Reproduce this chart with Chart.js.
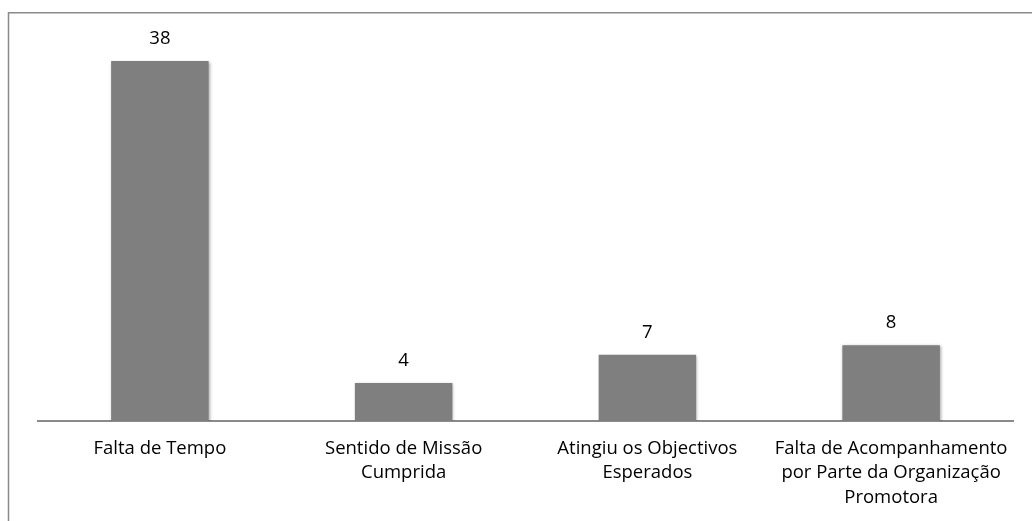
<!DOCTYPE html>
<html>
<head>
<meta charset="utf-8">
<script src="https://cdn.jsdelivr.net/npm/chart.js@4"></script>
<style>
  html, body { margin: 0; padding: 0; background: #fff; }
  #wrap { width: 1032px; height: 521px; position: relative; }
</style>
</head>
<body>
<div id="wrap"><canvas id="chart"></canvas></div>
<script>
// chart data
const categories = [
  'Falta de Tempo',
  ['Sentido de Missão', 'Cumprida'],
  ['Atingiu os Objectivos', 'Esperados'],
  ['Falta de Acompanhamento', 'por Parte da Organização', 'Promotora']
];
const values = [38, 4, 7, 8];

const FONT = '"Open Sans", sans-serif';
const FONT_SIZE = 18.5;

// outer frame (only left and top edges show in the picture)
const framePlugin = {
  id: 'frame',
  beforeDraw(chart) {
    const ctx = chart.ctx;
    ctx.save();
    ctx.strokeStyle = '#8a8a8a';
    ctx.lineWidth = 1.5;
    ctx.beginPath();
    ctx.moveTo(8.5, chart.height);
    ctx.lineTo(8.5, 12.75);
    ctx.lineTo(chart.width, 12.75);
    ctx.stroke();
    ctx.restore();
  }
};

// soft shadow under bars
const shadowPlugin = {
  id: 'barShadow',
  beforeDatasetsDraw(chart) {
    const ctx = chart.ctx;
    ctx.save();
    ctx.shadowColor = 'rgba(0,0,0,0.35)';
    ctx.shadowBlur = 3;
    ctx.shadowOffsetX = 1;
    ctx.shadowOffsetY = 1;
  },
  afterDatasetsDraw(chart) {
    chart.ctx.restore();
  }
};

// value labels above bars
const valueLabels = {
  id: 'valueLabels',
  afterDatasetsDraw(chart) {
    const ctx = chart.ctx;
    const meta = chart.getDatasetMeta(0);
    ctx.save();
    ctx.font = FONT_SIZE + 'px ' + FONT;
    ctx.fillStyle = '#000';
    ctx.textAlign = 'center';
    ctx.textBaseline = 'middle';
    meta.data.forEach((bar, i) => {
      ctx.fillText(String(values[i]), bar.x, bar.y - 22);
    });
    ctx.restore();
  }
};

new Chart(document.getElementById('chart'), {
  type: 'bar',
  data: {
    labels: categories,
    datasets: [{
      data: values,
      backgroundColor: '#7f7f7f',
      barPercentage: 0.4,
      categoryPercentage: 1.0
    }]
  },
  options: {
    responsive: true,
    maintainAspectRatio: false,
    animation: false,
    layout: { padding: { left: 38, right: 19, top: 42, bottom: 0 } },
    plugins: {
      legend: { display: false },
      tooltip: { enabled: false }
    },
    scales: {
      x: {
        grid: { display: false, drawTicks: false },
        border: { display: true, color: '#8a8a8a', width: 2 },
        ticks: {
          color: '#000',
          font: { family: FONT, size: FONT_SIZE, lineHeight: '24.5px' },
          padding: 15,
          maxRotation: 0,
          autoSkip: false
        },
        afterFit(scale) { scale.height = 100; }
      },
      y: {
        display: false,
        min: 0,
        max: 40
      }
    }
  },
  plugins: [framePlugin, shadowPlugin, valueLabels]
});
</script>
</body>
</html>
